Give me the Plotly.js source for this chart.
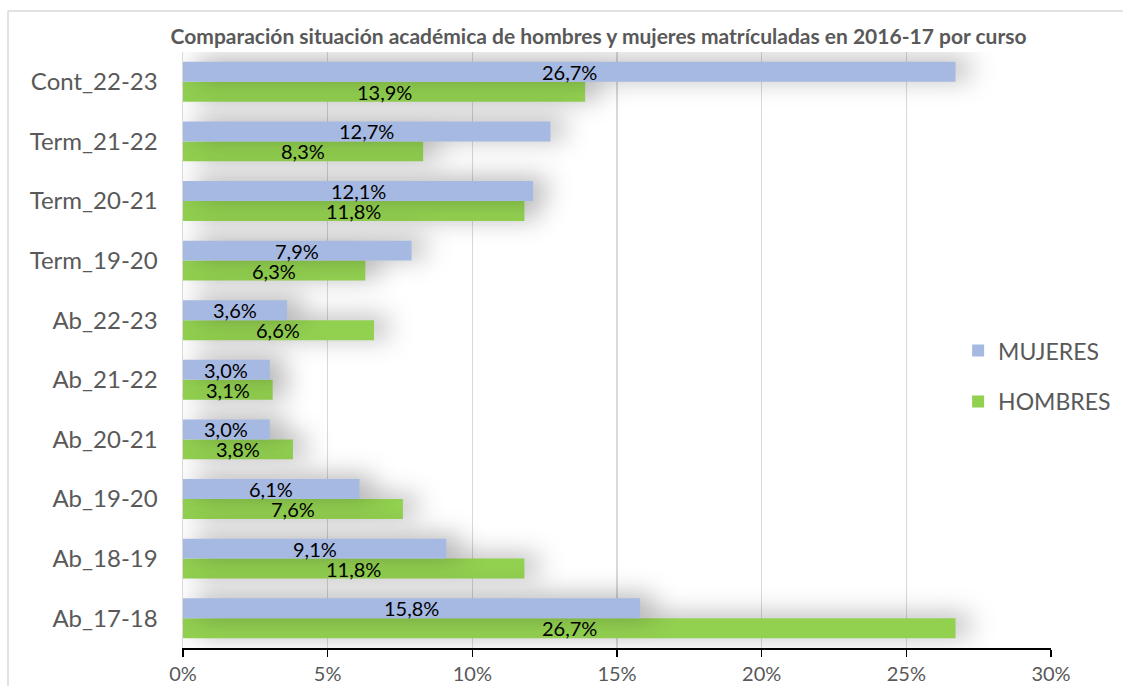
<!DOCTYPE html>
<html>
<head>
<meta charset="utf-8">
<script src="https://cdn.plot.ly/plotly-3.0.1.min.js"></script>
<style>
html,body{margin:0;padding:0;background:#fff;}
#chart{width:1123px;height:686px;}
.trace.bars .point path{filter:drop-shadow(14px -3px 13px rgba(0,0,0,0.30));}
</style>
</head>
<body>
<div id="chart"></div>
<script>
const categories = ["Ab_17-18","Ab_18-19","Ab_19-20","Ab_20-21","Ab_21-22","Ab_22-23","Term_19-20","Term_20-21","Term_21-22","Cont_22-23"];
const mujeres = [15.8, 9.1, 6.1, 3.0, 3.0, 3.6, 7.9, 12.1, 12.7, 26.7];
const hombres = [26.7, 11.8, 7.6, 3.8, 3.1, 6.6, 6.3, 11.8, 8.3, 13.9];
const xTicks = [0, 5, 10, 15, 20, 25, 30];
const titleText = "Comparación situación académica de hombres y mujeres matrículadas en 2016-17 por curso";

const fmt = v => v.toFixed(1).replace('.', ',') + '%';
const FONT = "Lato, 'Open Sans', sans-serif";

const traces = [
  {type:'bar', orientation:'h', name:'HOMBRES', y:categories, x:hombres,
   marker:{color:'#92D050'}, legendrank:2, legendgroup:'h', hoverinfo:'x'},
  {type:'bar', orientation:'h', name:'MUJERES', y:categories, x:mujeres,
   marker:{color:'#A6B9E2'}, legendrank:1, legendgroup:'m', hoverinfo:'x'}
];

const annotations = [];
categories.forEach((c,i)=>{
  annotations.push({x:mujeres[i]/2, y:c, xref:'x', yref:'y', text:fmt(mujeres[i]), showarrow:false, yshift:10,
    borderpad:0, font:{family:FONT, size:20, color:'#000'}});
  annotations.push({x:hombres[i]/2, y:c, xref:'x', yref:'y', text:fmt(hombres[i]), showarrow:false, yshift:-10,
    borderpad:0, font:{family:FONT, size:20, color:'#000'}});
});

const layout = {
  width:1123, height:686,
  margin:{l:183, r:72, t:52, b:38, autoexpand:false},
  paper_bgcolor:'#fff', plot_bgcolor:'rgba(0,0,0,0)',
  font:{family:FONT, color:'#595959'},
  title:{text:'<b>'+titleText+'</b>', font:{family:FONT, size:21, color:'#595959'},
    xref:'container', x:0.533, xanchor:'center', yref:'container', y:1-37/686, yanchor:'middle'},
  barmode:'group', bargap:0.33, bargroupgap:0,
  showlegend:true,
  legend:{x:0.893, xanchor:'left', y:0.535, yanchor:'top', traceorder:'grouped', tracegroupgap:18,
    itemwidth:30,
    font:{family:FONT, size:23, color:'#595959'}, bgcolor:'rgba(0,0,0,0)'},
  xaxis:{range:[0,30], tickvals:xTicks, ticktext:xTicks.map(v=>v+'%'),
    showgrid:true, gridcolor:'#D9D9D9', gridwidth:1.5, zeroline:false,
    showline:true, linecolor:'#000', linewidth:1.5, ticks:'outside', ticklen:7, tickcolor:'#000', tickwidth:1.5,
    tickfont:{family:FONT, size:20, color:'#595959'}, fixedrange:true},
  yaxis:{type:'category', showgrid:false, zeroline:false, showline:true, linecolor:'#D9D9D9', linewidth:1.5,
    ticks:'', ticklabelstandoff:19, tickfont:{family:FONT, size:24, color:'#595959'}, fixedrange:true},
  annotations:annotations,
  shapes:[
    {type:'line', xref:'paper', yref:'paper', x0:(8-183)/868, x1:(1130-183)/868, y0:(648-11)/596, y1:(648-11)/596,
     line:{color:'#D9D9D9', width:1.5}},
    {type:'line', xref:'paper', yref:'paper', x0:(8-183)/868, x1:(8-183)/868, y0:(648-11)/596, y1:(648-700)/596,
     line:{color:'#D9D9D9', width:1.5}}
  ]
};

Plotly.newPlot('chart', traces, layout, {displayModeBar:false, staticPlot:true});
</script>
</body>
</html>
